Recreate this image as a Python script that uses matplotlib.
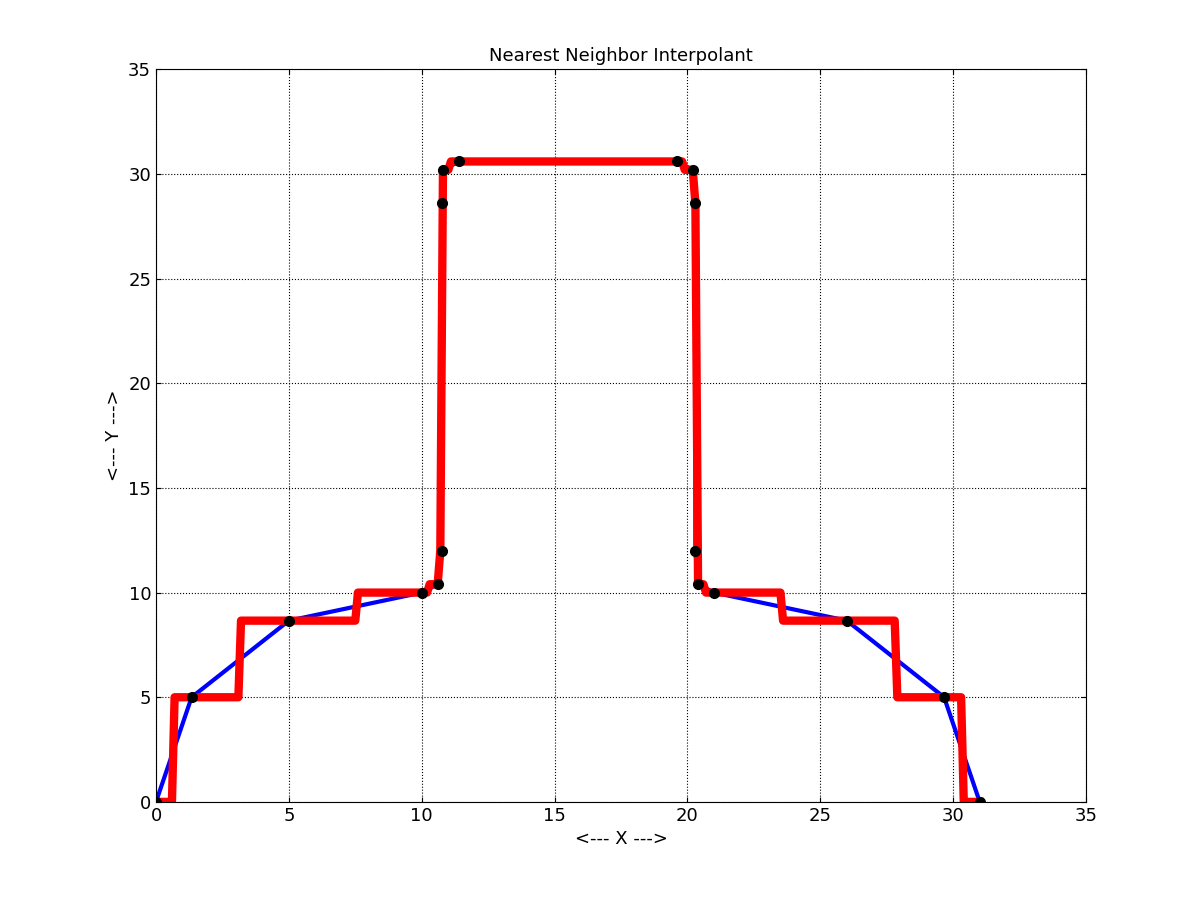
import numpy as np
import matplotlib
matplotlib.use("Agg")
import matplotlib.pyplot as plt

xs = [0, 1.34, 5, 10, 10.6, 10.75, 10.75, 10.8, 11.4, 19.6, 20.2, 20.3, 20.3, 20.4, 21, 26, 29.66, 31]
ys = [0, 5, 8.66, 10, 10.4, 12, 28.6, 30.2, 30.6, 30.6, 30.2, 28.6, 12, 10.4, 10, 8.66, 5, 0]

xa = np.array(xs); ya = np.array(ys)
xq = np.linspace(0, 31, 311)
yq = ya[np.argmin(np.abs(xq[:, None] - xa[None, :]), axis=1)]

fig = plt.figure(figsize=(12, 9.01), dpi=100)
ax = fig.add_axes([0.13, 0.11, 0.775, 0.813])
ax.plot(xs, ys, color='blue', lw=3)
ax.plot(xq, yq, color='red', lw=6)
ax.plot(xs, ys, 'o', color='black', ms=7)
ax.set_xlim(0, 35); ax.set_ylim(0, 35)
ax.set_xticks(range(0, 36, 5)); ax.set_yticks(range(0, 36, 5))
ax.grid(True, linestyle=':', color='black', lw=0.8)
ax.tick_params(direction='in', labelsize=13, top=True, right=True)
ax.set_title('Nearest Neighbor Interpolant', fontsize=13)
ax.set_xlabel('<--- X --->', fontsize=13)
ax.set_ylabel('<--- Y --->', fontsize=13)
fig.savefig('out.png')
